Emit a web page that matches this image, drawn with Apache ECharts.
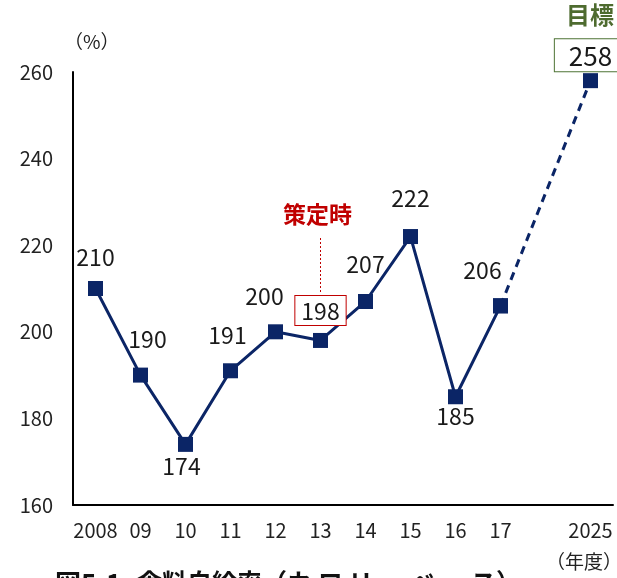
<!DOCTYPE html>
<html><head><meta charset="utf-8">
<script src="https://cdn.jsdelivr.net/npm/echarts@6/dist/echarts.min.js"></script>
<style>html,body{margin:0;padding:0;background:#fff}#c{width:617px;height:578px}</style>
</head><body><div id="c"></div>
<script>
const categories = ['2008','09','10','11','12','13','14','15','16','17','','2025'];
const actual = [210,190,174,191,200,198,207,222,185,206,null,null];
const target = [null,null,null,null,null,null,null,null,null,206,null,258];
const yTicks = [160,180,200,220,240,260];
const labelPos = ['top','top','bottom','top','top','top','top','top','bottom','top','top','top'];
const labelOffset = [[0,-7],[7,-12],[-4,-2],[-3,-12],[-11,-12],[0,-3],[0,-13],[0,-14],[0,-4],[-18,-12],[0,0],[0,3]];

const F = '"Noto Sans CJK JP", "Noto Sans", sans-serif';
const navy = '#0b2566';
const chart = echarts.init(document.getElementById('c'));

const actualData = actual.map((v,i)=>{
  if (v===null) return null;
  const o = {value:v, label:{show:true, position:labelPos[i], offset:labelOffset[i]}};
  if (i===5) {
    o.label = {show:true, position:'top', offset:labelOffset[i], borderColor:'#c00000', borderWidth:1,
      padding:[4,6,2,6], backgroundColor:'#fff'};
  }
  return o;
});
const targetData = target.map((v,i)=>{
  if (v===null) return null;
  if (i===11) return {value:v, label:{show:true, position:'top', offset:labelOffset[i], borderColor:'#4e7334', borderWidth:1,
      padding:[4,14,2,14], backgroundColor:'#fff', fontSize:26}};
  return {value:v, label:{show:false}};
});

chart.setOption({
  animation:false,
  textStyle:{fontFamily:F},
  grid:{left:73, right:4, top:72, bottom:73},
  xAxis:{type:'category', data:categories, boundaryGap:true,
    axisLine:{lineStyle:{color:'#000', width:2}}, axisTick:{show:false},
    axisLabel:{color:'#222', fontSize:20, margin:15, fontFamily:F, interval:0}},
  yAxis:{type:'value', min:yTicks[0], max:yTicks[yTicks.length-1], interval:20,
    axisLine:{show:true, lineStyle:{color:'#000', width:2}}, axisTick:{show:false}, splitLine:{show:false},
    axisLabel:{color:'#222', fontSize:20, margin:20, fontFamily:F}},
  series:[
    {type:'line', data:actualData, symbol:'rect', symbolSize:15, z:3,
      lineStyle:{color:navy, width:3}, itemStyle:{color:navy},
      label:{color:'#1a1a1a', fontSize:23, fontFamily:F}},
    {type:'line', data:targetData, connectNulls:true, symbol:'rect', symbolSize:15, z:2,
      lineStyle:{color:navy, width:3, type:[8,6]}, itemStyle:{color:navy},
      label:{color:'#1a1a1a', fontSize:26, fontFamily:F}}
  ],
  graphic:[
    {type:'text', left:64, top:32, style:{text:'（%）', fontSize:19, fill:'#222', fontFamily:F}},
    {type:'text', left:283, top:203, style:{text:'策定時', fontSize:23, fontWeight:'bold', fill:'#c00000', fontFamily:F}},
    {type:'line', shape:{x1:320.5, y1:238, x2:320.5, y2:293}, style:{stroke:'#c00000', lineWidth:1, lineDash:[2,2]}},
    {type:'text', left:566, top:3, style:{text:'目標', fontSize:24, fontWeight:'bold', fill:'#4e6b2f', fontFamily:F}},
    {type:'text', left:546, top:552, style:{text:'（年度）', fontSize:19, fill:'#222', fontFamily:F}},
    {type:'text', left:55, top:570, style:{text:'図5-1', fontSize:26, fontWeight:'bold', fill:'#111', fontFamily:F}},
    {type:'text', left:137, top:570, style:{text:'食料自給率', fontSize:25, fontWeight:'bold', fill:'#111', fontFamily:F}},
    {type:'text', left:262, top:570, style:{text:'（カ ロ リ ー ベ ー ス）', fontSize:25, fontWeight:'bold', fill:'#111', fontFamily:F}}
  ]
});
</script></body></html>
